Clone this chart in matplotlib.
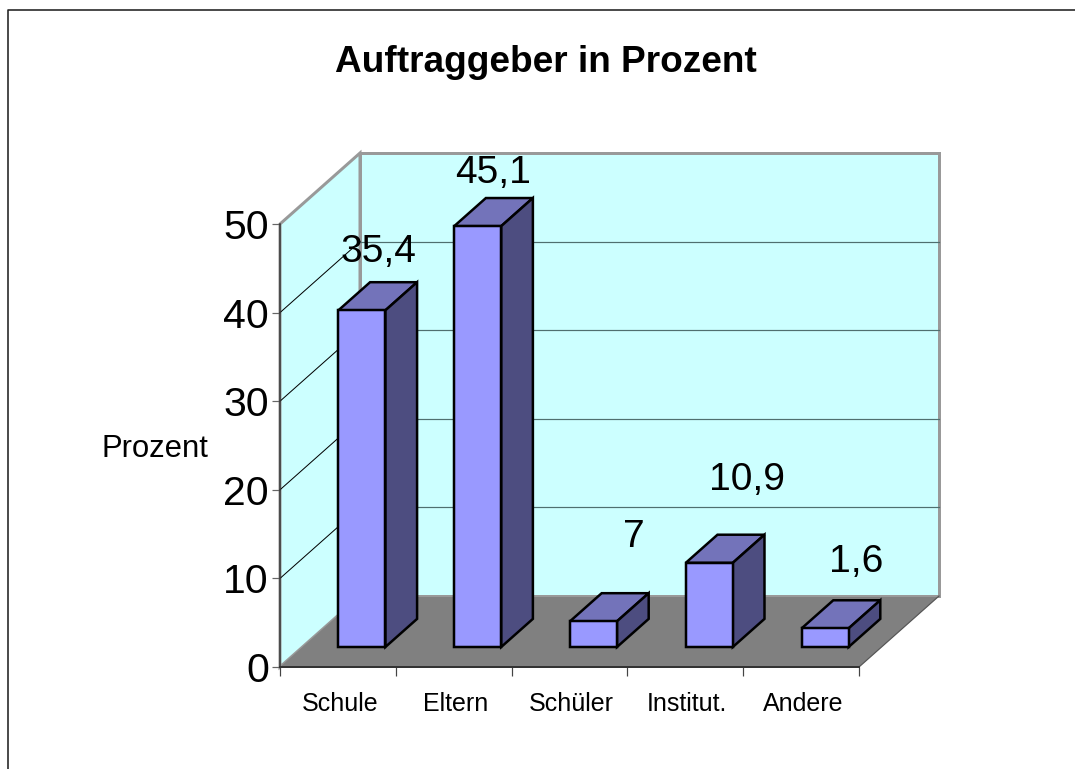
import matplotlib
matplotlib.use('Agg')
import matplotlib.pyplot as plt
from matplotlib.lines import Line2D
from matplotlib.patches import Polygon

plt.rcParams['font.family'] = ['Liberation Sans', 'DejaVu Sans']

kategorien = ['Schule', 'Eltern', 'Schüler', 'Institut.', 'Andere']
# bar heights as drawn in the picture, the printed labels differ from them
hoehen = [38.0, 47.5, 2.9, 9.5, 2.1]
beschriftung = ['35,4', '45,1', '7', '10,9', '1,6']
y_ticks = [0, 10, 20, 30, 40, 50]

W, H = 1075, 769
DX = 80 / 579 * 5   # depth shift in x data units
DY = 71 / 443 * 50  # depth shift in y data units
BAR_W = 0.406
D0, D1 = 0.30, 0.696  # front and back of the bars inside the depth
FUSS = 20 / 8.86  # front bottom of the bars above the front axis


def px(n):
    return n * 0.72


def p(x, y, d=0.0):
    return (x + d * DX, y + d * DY)


def bar_p(x, y, d=0.0):
    # bar faces: x goes with the whole depth, y only with the depth of the bar
    return (x + (D0 + d) * DX, y + d * DY)


fig = plt.figure(figsize=(W / 100, H / 100), dpi=100)
ax = fig.add_axes([280 / W, (H - 667) / H, 579 / W, 443 / H])
ax.set_xlim(0, 5)
ax.set_ylim(0, 50)
ax.patch.set_visible(False)


def poly(pts, fc, ec='none', lw=0, z=1):
    ax.add_patch(Polygon(pts, closed=True, facecolor=fc, edgecolor=ec,
                         linewidth=lw, clip_on=False, zorder=z, joinstyle='miter'))


# walls and floor
WAND = '#CCFFFF'
GRAU = '#999999'
poly([p(0, 0, 1), p(5, 0, 1), p(5, 50, 1), p(0, 50, 1)], WAND, GRAU, px(3), 1)
poly([p(0, 0), p(0, 0, 1), p(0, 50, 1), p(0, 50)], WAND, GRAU, px(3), 1.1)
poly([p(0, 0), p(5, 0), p(5, 0, 1), p(0, 0, 1)], '#808080', 'none', 0, 1.2)

# grid on back wall and left wall
for t in y_ticks[1:-1]:
    a, b = p(0, t, 1), p(5, t, 1)
    ax.plot([a[0], b[0]], [a[1], b[1]], color='#4F6F6F', lw=px(1.2), clip_on=False, zorder=1.3)
    c = p(0, t)
    ax.plot([c[0], a[0]], [c[1], a[1]], color='black', lw=px(1), clip_on=False, zorder=1.3)

# floor edges
a, b = p(0, 0, 1), p(5, 0, 1)
ax.plot([a[0], b[0]], [a[1], b[1]], color=GRAU, lw=px(2), clip_on=False, zorder=1.4)
a, b = p(5, 0), p(5, 0, 1)
ax.plot([a[0], b[0]], [a[1], b[1]], color='#555555', lw=px(1.2), clip_on=False, zorder=1.4)

# bars
RAND = 'black'
e = D1 - D0
for i, h in enumerate(hoehen):
    x0 = i + 0.5 - BAR_W / 2
    x1 = x0 + BAR_W
    y0 = FUSS
    y1 = y0 + h
    poly([bar_p(x0, y1), bar_p(x1, y1), bar_p(x1, y1, e), bar_p(x0, y1, e)], '#7373BA', RAND, px(2.5), 3)
    poly([bar_p(x1, y0), bar_p(x1, y0, e), bar_p(x1, y1, e), bar_p(x1, y1)], '#4D4D80', RAND, px(2.5), 3)
    poly([bar_p(x0, y0), bar_p(x1, y0), bar_p(x1, y1), bar_p(x0, y1)], '#9999FF', RAND, px(2.5), 3)

# value labels, pixel offsets from the top of each bar front
label_offset = [(17, 58), (15, 53), (40, 84), (38, 83), (31, 66)]
for i, (h, txt) in enumerate(zip(hoehen, beschriftung)):
    xc, yc = bar_p(i + 0.5, FUSS + h)
    dx, dy = label_offset[i]
    ax.annotate(txt, (xc, yc), xytext=(px(dx), px(dy)), textcoords='offset points',
                ha='center', va='center', fontsize=px(39), color='black',
                annotation_clip=False, zorder=5)

# axes
for s in ['top', 'right']:
    ax.spines[s].set_visible(False)
ax.spines['left'].set_color('#333333')
ax.spines['left'].set_linewidth(px(1.5))
ax.spines['bottom'].set_color('#333333')
ax.spines['bottom'].set_linewidth(px(2))
ax.spines['left'].set_zorder(4)
ax.spines['bottom'].set_zorder(4)

ax.set_yticks(y_ticks)
ax.tick_params(axis='y', length=px(8), width=px(1.2), color='#666666', pad=px(3), labelsize=px(41))
ax.set_xticks(range(6))
ax.set_xticklabels([])
ax.tick_params(axis='x', length=px(9), width=px(1.2), color='#444444')
for i, k in enumerate(kategorien):
    ax.annotate(k, (i + 0.5, 0), xytext=(px(2), -px(37)), textcoords='offset points',
                ha='center', va='center', fontsize=px(25), annotation_clip=False)

fig.text(155 / W, 1 - 449 / H, 'Prozent', ha='center', va='center', fontsize=px(31))
fig.text(546 / W, 1 - 63 / H, 'Auftraggeber in Prozent', ha='center', va='center',
         fontsize=px(37), fontweight='bold')

# outer border, only left and top are in the crop
fig.add_artist(Line2D([8 / W, 8 / W, 1], [0, 1 - 10 / H, 1 - 10 / H], color='#222222', lw=px(1.6)))

fig.savefig('out.png', dpi=100)
